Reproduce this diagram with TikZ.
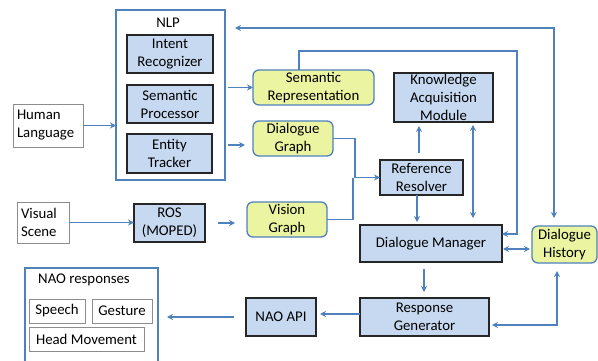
\documentclass[tikz,border=0pt]{standalone}
\usepackage{fontspec}
\setmainfont{Carlito}
\usetikzlibrary{arrows.meta}
\definecolor{bfill}{HTML}{C6D9F1}
\definecolor{yfill}{HTML}{EBF4A0}
\definecolor{lblue}{HTML}{4F81BD}
\definecolor{dborder}{HTML}{262626}
\definecolor{gborder}{HTML}{8C8C8C}
\begin{document}
\begin{tikzpicture}[x=1pt,y=-1pt,
  every node/.style={inner sep=0pt, outer sep=0pt, align=center, font=\fontsize{14.8}{18}\selectfont},
  bbox/.style={draw=dborder, line width=1.4pt, fill=bfill},
  ybox/.style={draw=lblue, line width=1.3pt, fill=yfill, rounded corners=6pt},
  gbox/.style={draw=gborder, line width=0.9pt, fill=white},
  cbox/.style={draw=lblue, line width=1.3pt},
  arr/.style={draw=lblue, line width=1.3pt, -{Stealth[length=6pt,width=6pt,inset=2pt]}},
  arrb/.style={draw=lblue, line width=1.3pt, {Stealth[length=6pt,width=6pt,inset=2pt]}-{Stealth[length=6pt,width=6pt,inset=2pt]}},
  ln/.style={draw=lblue, line width=1.3pt}]
\useasboundingbox (0,0) rectangle (598,361);

% NLP container
\node[cbox, minimum width=109pt, minimum height=170pt] (nlp) at (170.5,95) {};
\node (nlplbl) at (168,23) {NLP};
\node[bbox, minimum width=86pt, minimum height=38pt] (ir) at (170,54) {Intent\\Recognizer};
\node[bbox, minimum width=86pt, minimum height=38pt] (sp) at (170,104) {Semantic\\Processor};
\node[bbox, minimum width=85pt, minimum height=39pt] (et) at (169.5,153.5) {Entity\\Tracker};

% inputs
\node[gbox, minimum width=70pt, minimum height=43pt, text width=62pt, align=left] (hl) at (48,125.5) {Human\\Language};
\node[gbox, minimum width=52pt, minimum height=41pt, text width=44pt, align=left] (vs) at (43,222.5) {Visual\\Scene};
\node[bbox, minimum width=71pt, minimum height=38pt] (ros) at (169.5,223) {ROS\\(MOPED)};

% yellow boxes
\node[ybox, minimum width=121pt, minimum height=35pt] (semrep) at (313.5,87.5) {Semantic\\Representation};
\node[ybox, minimum width=80pt, minimum height=35pt] (dg) at (293,138.5) {Dialogue\\Graph};
\node[ybox, minimum width=80pt, minimum height=35pt] (vg) at (287,219.5) {Vision\\Graph};
\node[ybox, minimum width=65pt, minimum height=37pt] (dh) at (564.5,244.5) {Dialogue\\History};

% blue boxes
\node[bbox, minimum width=99pt, minimum height=49pt] (kam) at (443.5,97.5) {Knowledge\\Acquisition\\Module};
\node[bbox, minimum width=83pt, minimum height=35pt] (rr) at (421.5,177.5) {Reference\\Resolver};
\node[bbox, minimum width=142pt, minimum height=37pt] (dm) at (431,243.5) {Dialogue Manager};
\node[bbox, minimum width=129pt, minimum height=38pt] (rg) at (424.5,317) {Response\\Generator};
\node[bbox, minimum width=70pt, minimum height=38pt] (nao) at (281,317) {NAO API};

% NAO responses
\node[cbox, minimum width=133pt, minimum height=97pt] (resp) at (91.5,316.5) {};
\node (resplbl) at (84,280) {NAO responses};
\node[gbox, minimum width=56pt, minimum height=24pt] (speech) at (57,311) {Speech};
\node[gbox, minimum width=60pt, minimum height=24pt] (gest) at (122,311) {Gesture};
\node[gbox, minimum width=115pt, minimum height=24pt] (head) at (86.5,339) {Head Movement};

% helper coordinates
\coordinate (top) at (0,28);
\coordinate (c1) at (517,51);
\coordinate (c2) at (355,0);
\coordinate (c3) at (353,0);
\coordinate (c4) at (557,325);

% connectors
\draw[arr] (hl.east) -- (hl.east -| nlp.west);
\draw[arr, shorten <=3pt] (nlp.east |- semrep.west) -- (semrep.west);
\draw[arr, shorten <=3pt, shorten >=8pt] ([yshift=-6.5pt]nlp.east |- dg.west) -- ([yshift=-6.5pt]dg.west);
\draw[arr] (vs.east) -- (vs.east -| ros.west);
\draw[arr, shorten <=13pt, shorten >=12pt] (ros.east) -- (ros.east -| vg.west);
\draw[arr] (dg.east) -| (c2 |- rr.west) -- (rr.west);
\draw[ln] (vg.east) -| (c3 |- rr.west);
\draw[arr, shorten <=7pt, shorten >=4pt] ([xshift=-2.5pt]rr.north) -- ([xshift=-2.5pt]rr.north |- kam.south);
\draw[arr, shorten >=3pt] ([xshift=-4.5pt]rr.south) -- ([xshift=-4.5pt]rr.south |- dm.north);
\draw[arrb, shorten <=3pt, shorten >=7pt] ([xshift=29.5pt]kam.south) -- ([xshift=29.5pt]kam.south |- dm.north);
\draw[arr] ([xshift=-14.5pt]semrep.north) |- (c1) |- ([yshift=9.5pt]dm.east);
\draw[arrb, shorten <=10pt, shorten >=8pt] (nlp.east |- top) -| ([xshift=-10.5pt]dh.north);
\draw[arrb, shorten <=1pt, shorten >=2pt] ([yshift=-5.5pt]dm.east) -- ([yshift=-5.5pt]dm.east -| dh.west);
\draw[arr, shorten <=7pt, shorten >=6pt] ([xshift=-7pt]dm.south) -- ([xshift=-7pt]dm.south |- rg.north);
\draw[arrb, shorten <=8pt, shorten >=3pt] ([xshift=-7.5pt]dh.south) |- (rg.east |- c4);
\draw[arr, shorten >=4pt] ([yshift=3pt]rg.west) -- ([yshift=3pt]rg.west -| nao.east);
\draw[arr, shorten <=12pt, shorten >=9pt] (nao.west) -- (nao.west -| resp.east);
\end{tikzpicture}
\end{document}
